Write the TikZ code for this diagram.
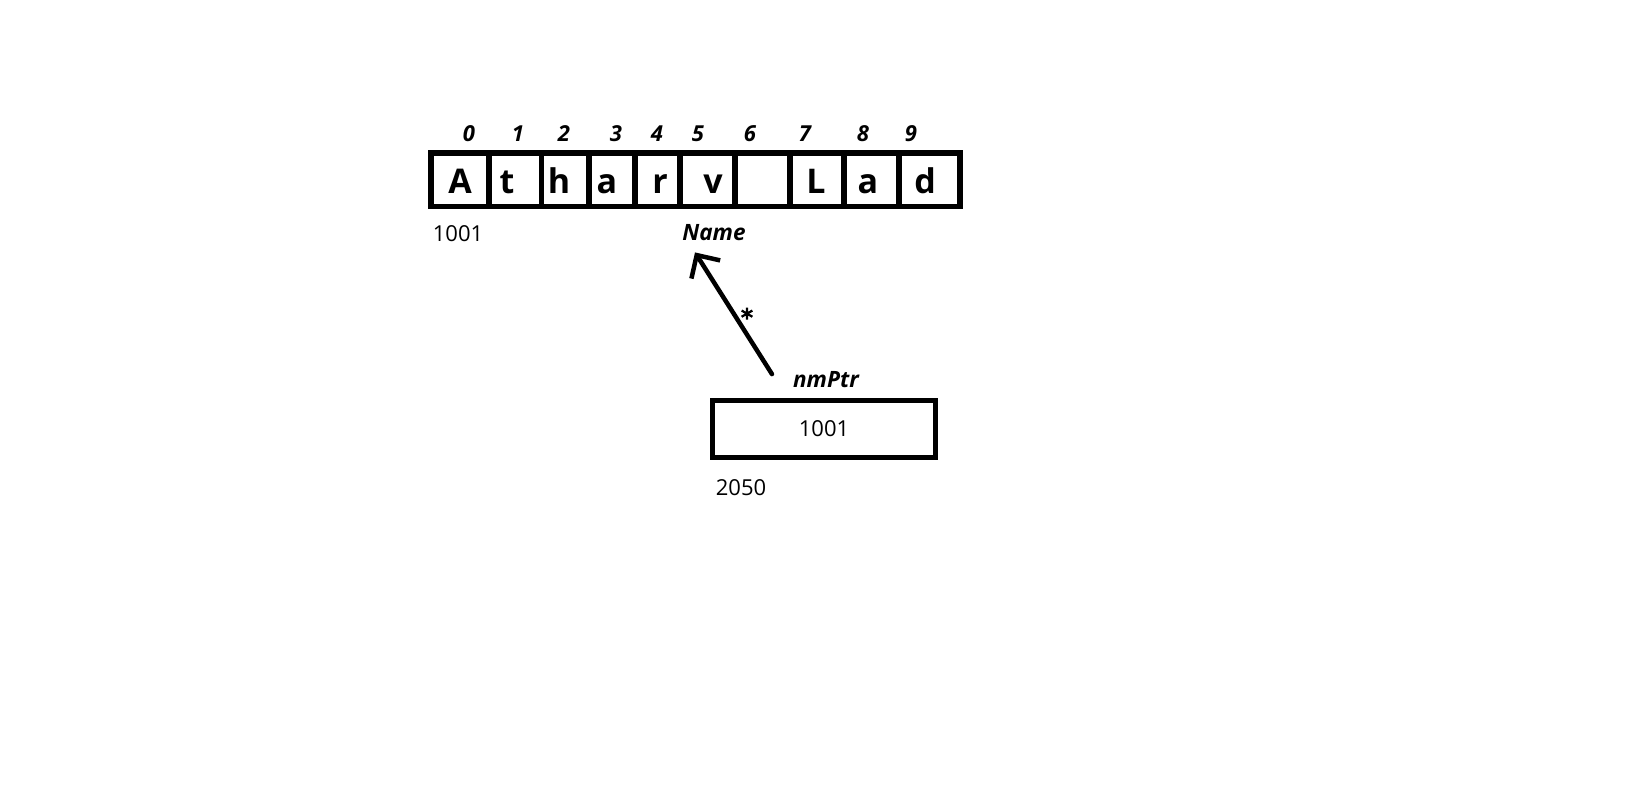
\documentclass[tikz,border=0pt]{standalone}
\usepackage{fontspec}
\setmainfont{Open Sans}
\newfontfamily\starfont[FakeBold=4]{DejaVu Sans}
\usetikzlibrary{arrows.meta}

\begin{document}
\begin{tikzpicture}[
  x=1pt,
  y=-1pt,
  cell/.style={
    line width=5.5pt
  },
  letter/.style={
    font=\bfseries\fontsize{34}{40}\selectfont,
    anchor=base,
    inner sep=0pt
  },
  idx/.style={
    font=\bfseries\itshape\fontsize{22}{26}\selectfont,
    anchor=base,
    inner sep=0pt
  },
  addr/.style={
    font=\fontsize{22}{26}\selectfont,
    anchor=base,
    inner sep=0pt
  },
  var/.style={
    font=\bfseries\itshape\fontsize{22.5}{26}\selectfont,
    anchor=base,
    inner sep=0pt
  },
  ptr/.style={
    line width=4.5pt,
    line cap=round,
    -{Straight Barb[length=17pt,width=34pt]}
  }
]
\useasboundingbox (0,0) rectangle (1639,803);
\draw[cell] (431,153) rectangle (960,206.5);
\foreach \x in {489,541.5,589,635,680,735,790,844,899}
   \draw[cell] (\x,153) -- (\x,206.5);
\foreach \x/\c [count=\n] in {460/A,507/t,559/h,607/a,660/r,713/v,816/L,868/a,925/d}
   \node[letter] (ch\n) at (\x,193) {\c};
\foreach \x [count=\n from 0] in {469,518,564,616,657,698,750,805,863,911}
   \node[idx] (idx\n) at (\x,141) {\n};
\node[addr] (nameaddr) at (458,241) {1001};
\node[var] (Name) at (714,240) {Name};
\node[var] (nmPtr) at (826,387) {nmPtr};
\node[draw,cell,minimum width=223pt,minimum height=57pt,inner sep=0pt,
      font=\fontsize{22}{26}\selectfont] (ptrbox) at (824,429) {1001};
\node[addr] (ptraddr) at (741,495) {2050};
\draw[ptr] ([shift={(-21,-5)}]nmPtr.west) -- ([shift={(-19,12)}]Name.south);
\node[font=\starfont\fontsize{24}{28}\selectfont,anchor=base,inner sep=0pt] (star) at (747,326) {*};
\end{tikzpicture}
\end{document}
